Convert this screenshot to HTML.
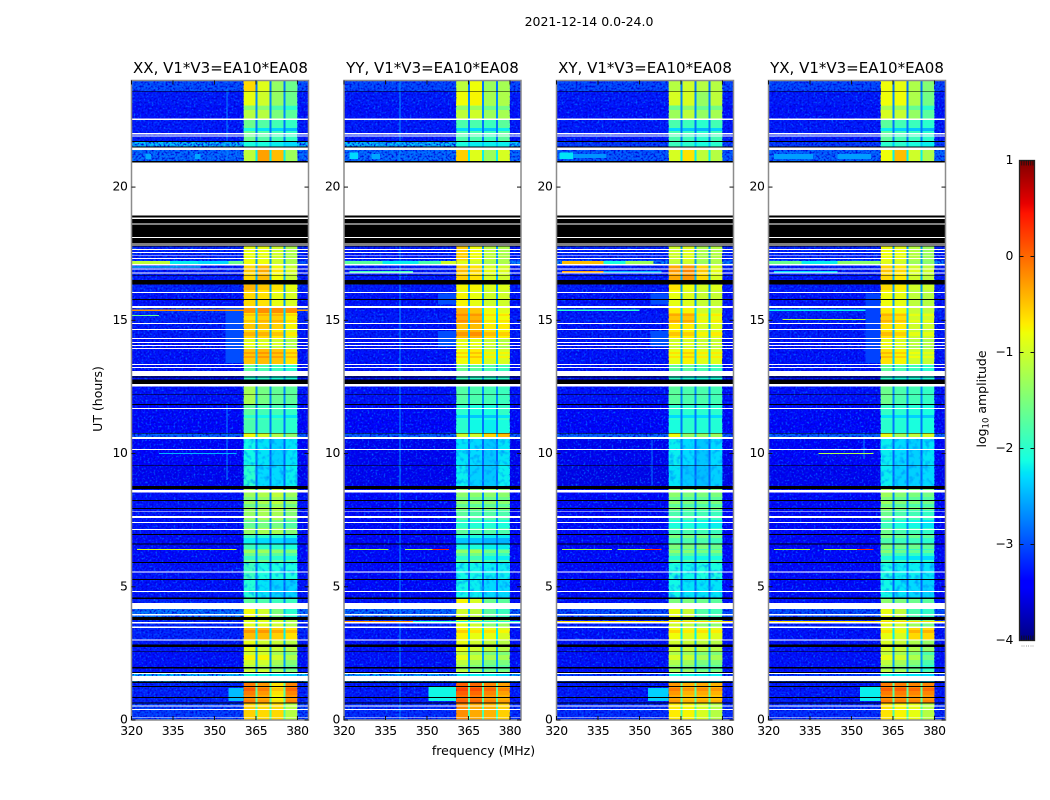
<!DOCTYPE html>
<html lang="en">
<head>
<meta charset="utf-8">
<title>2021-12-14 0.0-24.0</title>
<style>
html,body{margin:0;padding:0;background:#fff;}
svg{display:block;font-family:"DejaVu Sans","Liberation Sans",sans-serif;fill:#000;}
.tick-label{font-size:12.4px;letter-spacing:-0.38px;}
.panel-title{font-size:15px;text-anchor:middle;}
.axis-label{font-size:12.5px;text-anchor:middle;}
</style>
</head>
<body>
<svg id="figure" width="1050" height="800" viewBox="0 0 1050 800" xmlns="http://www.w3.org/2000/svg">
  <defs>
    <filter id="speckle-light" x="0" y="0" width="1" height="1" color-interpolation-filters="sRGB">
      <feTurbulence type="fractalNoise" baseFrequency="0.5" numOctaves="2" seed="4"/>
      <feColorMatrix values="0 0 0 0 0  0 0 0 0 0.42  0 0 0 0 1  3.0 0 0 0 -1.5"/>
    </filter>
    <filter id="speckle-dark" x="0" y="0" width="1" height="1" color-interpolation-filters="sRGB">
      <feTurbulence type="fractalNoise" baseFrequency="0.5" numOctaves="2" seed="11"/>
      <feColorMatrix values="0 0 0 0 0  0 0 0 0 0  0 0 0 0 0.85  3.0 0 0 0 -1.3"/>
    </filter>
    <filter id="mottle" x="0" y="0" width="1" height="1" color-interpolation-filters="sRGB">
      <feTurbulence type="fractalNoise" baseFrequency="0.2" numOctaves="2" seed="7"/>
      <feColorMatrix values="0 0 0 0 0  0 0 0 0 0.6  0 0 0 0 1  2.6 0 0 0 -1.25"/>
    </filter>
    <linearGradient id="colorbar-gradient" x1="0" y1="1" x2="0" y2="0"></linearGradient>
  </defs>
  <text x="589" y="26" font-size="12.5" text-anchor="middle">2021-12-14 0.0-24.0</text>
  <text class="panel-title" x="220.5" y="73">XX, V1*V3=EA10*EA08</text>
  <text class="panel-title" x="432.5" y="73">YY, V1*V3=EA10*EA08</text>
  <text class="panel-title" x="645" y="73">XY, V1*V3=EA10*EA08</text>
  <text class="panel-title" x="857" y="73">YX, V1*V3=EA10*EA08</text>
  <text class="axis-label" x="483.5" y="755">frequency (MHz)</text>
  <text class="axis-label" transform="translate(102,399) rotate(-90)">UT (hours)</text>
  <text class="axis-label" transform="translate(986,399) rotate(-90)">log<tspan font-size="8.5" dy="2.5">10</tspan><tspan dy="-2.5"> amplitude</tspan></text>
  <g id="panels"></g>
  <g id="colorbar">
    <rect x="1019.5" y="160.5" width="15" height="480" fill="url(#colorbar-gradient)" stroke="#222" stroke-width="1.3"/>
  </g>
</svg>
<script>
// ---- data ----
const panelNames = ['xx', 'yy', 'xy', 'yx'];
const xTicks = [320, 335, 350, 365, 380];
const yTicks = [0, 5, 10, 15, 20];
const colorTicks = [1, 0, -1, -2, -3, -4];
const colorTickLabels = ['1', '0', '\u22121', '\u22122', '\u22123', '\u22124'];
const colorMinorTicks = [0.15, 0.3, 0.45, 0.6, 0.75, 0.9];

// UT boundaries of the time blocks, newest first
const utEdges = [24,23.59,23.08,22.52,21.73,21.49,20.94,17.79,17.25,17.08,16.51,16.06,15.46,15.27,14.90,14.64,14.34,13.92,13.32,13.10,12.54,11.86,11.26,10.77,10.55,9.57,8.67,7.88,6.98,6.42,5.89,5.25,4.58,4.17,3.75,3.49,3.0,2.55,1.80,1.39,0.64,0];

// frequency segments (MHz): background, four sub-bands, three notches
const bgSegments = [[320, 360.5], [380, 384]];
const bandSegments = [[360.5, 364.9], [365.6, 369.9], [370.6, 375.0], [375.7, 380]];
const notchSegments = [[364.9, 365.6], [369.9, 370.6], [375.0, 375.7]];

// log10 amplitude of the notch channels per time block
const notchLevels = [-2.8,-2.7,-2.7,-2.8,-2.4,-2.2,-2.7,-2.6,-2.6,-2.5,-2.6,-2.6,-2.3,-2.4,-2.5,-2.5,-2.5,-2.4,-2.6,-2.6,-2.7,-2.8,-2.8,-2.4,-2.9,-2.9,-2.7,-2.7,-2.8,-2.7,-2.9,-2.9,-2.7,-2.4,-2.4,-2.2,-2.5,-2.6,-2.4,-1.7,-1.8];

// per block: background, band A, band B, band C, band D (log10 amplitude)
const levelsXX = [
[-2.95,-0.6,-0.9,-1.35,-1.6],[-3.25,-0.85,-1.0,-1.35,-1.6],[-3.3,-1.15,-1.15,-1.5,-1.7],[-3.25,-1.6,-1.75,-1.85,-1.95],[-2.4,-2.1,-2.1,-2.2,-2.3],
[-2.8,-1.1,-0.3,-0.45,-1.3],[-3.3,-1,-1,-1,-1],[-3.2,-0.85,-0.85,-1.0,-1.2],[-2.95,-0.8,-0.8,-1.0,-1.2],[-3.25,-0.6,-0.45,-0.8,-1.05],
[-3.2,-0.55,-0.65,-0.8,-1.0],[-3.3,-0.6,-0.65,-0.85,-0.95],[-3.1,-0.25,-0.2,-0.2,-0.2],[-3.2,-0.65,-0.55,-0.55,-0.75],[-3.25,-0.5,-0.5,-0.55,-0.75],
[-3.25,-0.6,-0.6,-0.7,-0.9],[-3.3,-0.8,-0.85,-0.9,-1.1],[-3.3,-0.5,-0.45,-0.5,-0.65],[-3.3,-1.7,-1.8,-1.9,-2.0],[-3.3,-2.0,-2.0,-2.1,-2.1],
[-3.3,-1.25,-1.55,-1.65,-1.7],[-3.35,-1.7,-1.85,-1.85,-1.95],[-3.4,-1.8,-1.9,-1.95,-2.0],[-2.85,-0.8,-1.0,-1.2,-1.4],[-3.45,-2.15,-2.25,-2.35,-2.25],
[-3.5,-2.0,-2.3,-2.3,-2.2],[-3.3,-1.3,-1.2,-1.1,-1.3],[-3.3,-1.35,-1.25,-1.25,-1.45],[-3.35,-1.9,-2.0,-2.0,-2.1],[-3.35,-1.6,-1.6,-1.7,-1.8],
[-3.3,-1.9,-2.1,-2.1,-2.1],[-3.3,-2.05,-2.25,-2.35,-2.35],[-3.2,-1.7,-1.8,-1.9,-1.9],[-2.75,-0.8,-1.0,-1.5,-2.0],[-3.2,-0.9,-0.9,-1.0,-1.2],
[-3.2,-0.45,-0.45,-0.55,-0.65],[-3.25,-0.85,-1.0,-1.05,-1.15],[-3.3,-1.0,-1.0,-1.25,-1.45],[-2.4,-2.1,-2.1,-2.2,-2.3],[-3.2,-0.1,-0.25,-0.65,-0.15],
[-3.05,-0.55,-0.6,-0.6,-1.15]];
const levelsYY = [
[-3.0,-1.1,-0.8,-1.3,-1.25],[-3.25,-0.8,-0.75,-1.25,-1.2],[-3.3,-1.1,-1.0,-1.3,-1.25],[-3.25,-1.8,-1.8,-1.9,-1.7],[-2.4,-2.1,-2.2,-2.2,-2.2],
[-2.8,-0.55,-0.9,-1.3,-0.95],[-3.3,-1,-1,-1,-1],[-3.25,-0.55,-0.8,-1.1,-1.2],[-2.7,-0.9,-1.0,-1.2,-1.2],[-3.25,-0.55,-0.65,-0.95,-1.0],
[-3.25,-0.9,-0.9,-1.05,-1.05],[-3.3,-0.75,-0.85,-1.0,-1.0],[-3.3,-0.4,-0.5,-0.8,-0.9],[-3.25,-0.35,-0.4,-0.8,-0.8],[-3.3,-0.5,-0.45,-0.7,-0.7],
[-3.25,-0.45,-0.4,-0.65,-0.75],[-3.3,-0.8,-0.8,-0.95,-1.05],[-3.3,-0.8,-0.7,-0.95,-0.95],[-3.3,-1.6,-1.7,-1.8,-1.9],[-3.3,-1.9,-2.0,-2.0,-2.0],
[-3.3,-1.75,-1.8,-1.85,-1.9],[-3.35,-2.0,-2.1,-2.1,-1.95],[-3.4,-2.0,-2.15,-2.2,-2.1],[-2.85,-1.0,-1.0,-0.6,-0.45],[-3.5,-2.25,-2.3,-2.4,-2.25],
[-3.5,-2.2,-2.35,-2.4,-2.2],[-3.35,-1.4,-1.4,-1.4,-1.4],[-3.35,-1.7,-1.75,-1.75,-1.8],[-3.4,-2.1,-2.1,-2.2,-2.2],[-3.35,-1.7,-1.55,-1.85,-1.9],
[-3.35,-2.15,-2.15,-2.2,-2.2],[-3.35,-2.15,-2.2,-2.3,-2.3],[-3.3,-0.75,-0.95,-1.6,-1.7],[-2.8,-1.0,-1.1,-1.7,-1.9],[-3.2,-0.9,-1.0,-1.4,-1.3],
[-3.3,-0.75,-0.85,-0.85,-0.95],[-3.3,-0.85,-1.0,-1.1,-1.15],[-3.3,-1.1,-1.3,-1.5,-1.5],[-2.5,-2.2,-2.2,-2.2,-2.3],[-3.25,0.05,0.0,-0.15,-0.3],
[-3.15,-0.2,-0.35,-0.4,-0.55]];
const levelsXY = [
[-3.0,-1.15,-1.0,-1.15,-1.15],[-3.25,-0.95,-0.95,-1.35,-1.1],[-3.3,-1.3,-1.1,-1.35,-1.25],[-3.25,-1.8,-1.9,-2.0,-1.85],[-3.05,-1.9,-2.0,-2.1,-2.0],
[-2.9,-0.95,-0.65,-1.1,-1.15],[-3.3,-1,-1,-1,-1],[-3.2,-1.0,-0.9,-1.2,-1.15],[-2.7,-1.1,-1.0,-1.3,-1.2],[-3.25,-0.35,-0.25,-0.6,-0.95],
[-3.25,-0.8,-0.95,-1.1,-1.05],[-3.3,-0.85,-0.9,-1.05,-1.05],[-3.3,-0.7,-0.75,-1.0,-1.0],[-3.25,-0.5,-0.5,-0.9,-0.85],[-3.3,-0.7,-0.7,-0.95,-0.9],
[-3.25,-0.7,-0.75,-0.95,-0.9],[-3.3,-0.9,-0.85,-0.95,-0.95],[-3.3,-0.85,-0.75,-0.9,-0.9],[-3.3,-1.7,-1.7,-1.8,-1.9],[-3.3,-2.0,-2.1,-2.1,-2.1],
[-3.3,-1.7,-1.8,-1.8,-1.85],[-3.35,-2.0,-2.0,-2.0,-2.0],[-3.4,-2.1,-2.0,-2.05,-2.05],[-2.85,-0.8,-1.35,-1.35,-1.3],[-3.5,-2.2,-2.3,-2.4,-2.3],
[-3.55,-2.25,-2.4,-2.45,-2.35],[-3.35,-1.4,-1.5,-1.5,-1.5],[-3.35,-1.8,-1.8,-1.85,-1.9],[-3.4,-1.5,-1.5,-1.5,-1.6],[-3.35,-1.7,-1.75,-1.85,-1.8],
[-3.35,-2.1,-2.15,-2.1,-2.1],[-3.35,-2.15,-2.25,-2.25,-2.25],[-3.3,-1.5,-1.5,-1.6,-1.7],[-2.95,-0.85,-1.05,-1.75,-1.85],[-3.2,-1.0,-1.1,-1.4,-1.4],
[-3.3,-0.8,-0.9,-0.85,-0.9],[-3.3,-1.0,-1.05,-1.1,-1.15],[-3.3,-1.2,-1.3,-1.5,-1.5],[-3.05,-2.1,-2.15,-2.2,-2.2],[-3.25,-0.25,-0.4,-0.35,-0.4],
[-3.15,-0.7,-0.75,-0.95,-1.15]];
const levelsYX = [
[-3.0,-0.8,-0.85,-1.2,-1.45],[-3.25,-0.8,-0.8,-1.2,-1.55],[-3.3,-0.95,-1.05,-1.35,-1.7],[-3.25,-1.7,-1.85,-1.9,-2.0],[-3.05,-2.0,-2.0,-2.1,-2.2],
[-2.85,-0.8,-0.45,-1.0,-1.2],[-3.3,-1,-1,-1,-1],[-3.2,-0.8,-0.85,-1.15,-1.3],[-2.7,-0.9,-1.0,-1.3,-1.4],[-3.25,-0.6,-0.7,-1.0,-1.1],
[-3.25,-0.75,-0.85,-1.15,-1.15],[-3.3,-0.8,-0.85,-1.1,-1.15],[-3.2,-0.7,-0.8,-1.05,-1.1],[-3.25,-0.55,-0.65,-1.0,-1.0],[-3.3,-0.65,-0.7,-1.0,-1.0],
[-3.25,-0.65,-0.75,-1.05,-1.05],[-3.3,-0.75,-0.85,-1.05,-1.1],[-3.3,-0.65,-0.75,-1.0,-1.05],[-3.3,-1.7,-1.8,-1.9,-2.0],[-3.3,-2.0,-2.1,-2.1,-2.1],
[-3.3,-1.6,-1.8,-1.85,-1.95],[-3.35,-1.95,-2.0,-2.05,-2.1],[-3.4,-2.0,-2.05,-2.1,-2.1],[-2.85,-0.85,-1.25,-1.1,-0.95],[-3.45,-2.2,-2.3,-2.35,-2.25],
[-3.5,-2.2,-2.35,-2.35,-2.3],[-3.35,-1.3,-1.45,-1.5,-1.55],[-3.35,-1.6,-1.8,-1.85,-1.95],[-3.4,-1.5,-1.6,-1.6,-1.7],[-3.35,-1.75,-1.9,-1.95,-2.0],
[-3.35,-2.1,-2.2,-2.2,-2.25],[-3.35,-2.15,-2.25,-2.3,-2.35],[-3.3,-1.4,-1.5,-1.6,-1.7],[-2.95,-0.85,-1.1,-1.8,-1.95],[-3.2,-0.9,-1.0,-1.3,-1.5],
[-3.3,-0.85,-0.95,-0.6,-0.6],[-3.3,-0.95,-1.05,-1.2,-1.35],[-3.3,-1.1,-1.25,-1.45,-1.8],[-3.05,-2.15,-2.2,-2.25,-2.3],[-3.25,-0.1,-0.1,-0.15,-0.15],
[-3.15,-0.65,-0.75,-0.85,-1.15]];

// horizontal structure inside the bands: [utLow, utHigh, level change]
const bandStripes = [[22.89,23.04,-0.3],[22.1,22.22,-0.5],[16.81,16.96,0.1],[16.14,16.33,0.15],[15.16,15.24,0.15],[14.94,15.01,0.15],[14.41,14.56,0.2],[14.19,14.26,-0.15],[13.92,14.07,-0.2],[13.74,13.81,0.2],[13.59,13.66,0.2],[11.33,11.45,-0.3],[8.26,8.37,-0.2],[7.99,8.11,-0.3],[7.21,7.51,-0.3],[6.61,6.83,-0.3],[6.27,6.38,0.3],[6.0,6.15,-0.3],[3.27,3.38,0.2],[2.25,2.44,0.25],[1.88,2.06,-0.2],[1.09,1.20,0.15],[0.75,0.94,-0.1]];
// time ranges with patchy, low-level band emission [utHigh, utLow]
const mottledRanges = [[10.55,8.67],[5.89,4.58]];

// elevated patches in the background: [utHigh, utLow, fStart, fEnd, level]
const patchesXX = [[15.46,13.4,354,360.5,-3.0],[1.2,0.72,355,360.5,-2.45],[21.25,21.05,325,327,-2.55],[21.25,21.05,343,345,-2.55]];
const patchesYY = [[16.0,15.6,354,360.5,-3.0],[14.6,14.0,354,360.5,-3.0],[1.25,0.72,350.5,360.5,-2.15],[21.3,21.05,322,325,-2.3],[21.25,21.05,330,333,-2.55]];
const patchesXY = [[16.0,15.6,354,360.5,-3.0],[14.6,14.0,354,360.5,-3.0],[1.2,0.72,353,360.5,-2.35],[21.3,21.05,321,326,-2.25],[21.25,21.1,326,338,-2.65]];
const patchesYX = [[16.0,13.4,355,360.5,-3.05],[1.25,0.72,353,360.5,-2.2],[21.25,21.05,322,336,-2.6],[21.25,21.05,345,357,-2.6]];

// narrow-band interference lines: [ut, fStart, fEnd, level, half-thickness in hours]
const rfiXX = [[17.17,320,334,-1.1,0.05],[17.17,334,344,-2.2,0.05],[17.17,344,355,-2.3,0.05],[17.17,355,360.5,-1.6,0.05],[17.0,320,345,-2.2],[15.38,320,360.5,-0.2],[15.38,380,384,-0.3],[15.18,320,330,-1.6],[6.4,322,358,-0.9],[3.65,320,384,-0.6],[10.0,330,358,-2.5]];
const rfiYY = [[17.17,320,334,-1.7,0.05],[17.17,334,347,-2.2,0.05],[17.17,347,355,-1.8,0.05],[17.17,355,360.5,-1.0,0.05],[16.82,322,345,-1.9],[6.4,322,336,-1.2],[6.4,342,352,-1.2],[6.4,352,358,0.3],[3.7,320,345,-0.2],[3.7,345,384,-2.0]];
const rfiXY = [[17.17,322,337,-0.45,0.05],[17.17,337,345,-2.1,0.05],[17.17,345,355,-1.3,0.05],[16.82,322,337,-0.3],[16.82,337,358,-2.5],[15.38,320,350,-2.0],[6.4,322,340,-1.2],[6.4,342,352,-1.2],[6.4,352,358,0.3],[3.7,320,384,-0.6]];
const rfiYX = [[17.17,320,332,-1.6,0.05],[17.17,332,345,-2.2,0.05],[17.17,345,360.5,-1.4,0.05],[16.82,322,345,-2.3],[15.38,320,355,-2.2],[15.03,325,355,-1.1],[10.0,338,358,-1.2],[6.4,322,335,-1.1],[6.4,340,352,-1.1],[6.4,352,358,0.3],[3.7,320,384,-0.6]];

// faint vertical interference: [freq, utHigh, utLow, level]
const verticalsXX = [[354.4,23.7,21.0,-2.7],[354.4,11.9,9.0,-2.7]];
const verticalsYY = [[340,24,0,-2.65]];
const verticalsXY = [[354.4,10.5,8.8,-2.8]];
const verticalsYX = [[354.4,10.8,9.8,-2.7]];

// flagged time ranges [utLow, utHigh]: blank (white) and zero (black)
const whiteFlags = [[22.52,22.57],[21.98,22.03],[21.89,21.93],[21.39,21.49],[18.93,20.92],[18.81,18.85],[18.59,18.63],[18.09,18.13],[17.88,17.91],[17.80,17.85],[17.63,17.67],[17.53,17.56],[17.43,17.46],[17.30,17.34],[17.05,17.11],[16.90,16.94],[16.75,16.79],[16.03,16.06],[15.46,15.53],[14.86,14.90],[14.64,14.67],[14.30,14.34],[14.15,14.19],[14.04,14.07],[13.92,13.96],[13.32,13.36],[13.21,13.25],[12.91,13.10],[12.51,12.61],[11.68,11.71],[10.55,10.62],[10.14,10.17],[8.53,8.64],[7.82,7.85],[7.58,7.66],[7.39,7.43],[7.13,7.17],[5.54,5.58],[4.80,4.84],[4.17,4.39],[3.93,3.97],[3.63,3.67],[3.46,3.50],[2.99,3.03],[1.73,1.76],[1.46,1.66],[0.50,0.54],[0.38,0.42],[0.09,0.12]];
const blackFlags = [[23.58,23.61],[21.70,21.73],[21.49,21.52],[20.92,20.98],[18.85,18.93],[18.63,18.81],[18.13,18.59],[17.91,18.09],[17.85,17.88],[17.77,17.80],[16.69,16.71],[16.34,16.51],[15.76,15.80],[12.86,12.90],[12.73,12.77],[12.61,12.72],[12.21,12.23],[11.83,11.86],[10.73,10.76],[9.53,9.56],[8.67,8.78],[8.22,8.26],[7.92,7.95],[6.94,6.98],[6.59,6.62],[5.89,5.93],[5.25,5.29],[4.55,4.59],[3.76,3.87],[2.74,2.83],[2.55,2.58],[1.94,1.98],[1.76,1.81],[1.38,1.44],[1.24,1.28],[0.83,0.86],[0.61,0.66]];

const panelLevels = [levelsXX, levelsYY, levelsXY, levelsYX];
const panelPatches = [patchesXX, patchesYY, patchesXY, patchesYX];
const panelRfi = [rfiXX, rfiYY, rfiXY, rfiYX];
const panelVerticals = [verticalsXX, verticalsYY, verticalsXY, verticalsYX];

// ---- layout and scales ----
const SVGNS = 'http://www.w3.org/2000/svg';
const panelLefts = [131.5, 344, 556.5, 768.5];
const panelWidth = 177;
const plotTop = 80.5, plotBottom = 720;
const xScale = (p, f) => panelLefts[p] + (f - 320) * panelWidth / 64;
const yScale = ut => plotBottom - ut * (plotBottom - plotTop) / 24;
const cbTop = 160.5, cbBottom = 640.5;
const cbScale = v => cbBottom - (v + 4) * (cbBottom - cbTop) / 5;

function interp(pts, t) {
  for (let i = 1; i < pts.length; i++) {
    if (t <= pts[i][0]) {
      const a = pts[i - 1], b = pts[i];
      return a[1] + (b[1] - a[1]) * (t - a[0]) / (b[0] - a[0]);
    }
  }
  return pts[pts.length - 1][1];
}
const jetR = [[0,0],[0.35,0],[0.66,1],[0.89,1],[1,0.5]];
const jetG = [[0,0],[0.125,0],[0.375,1],[0.64,1],[0.91,0],[1,0]];
const jetB = [[0,0.5],[0.11,1],[0.34,1],[0.65,0],[1,0]];
function jet(v) {
  const t = Math.max(0, Math.min(1, (v + 4) / 5));
  const c = ch => Math.round(255 * interp(ch, t));
  return 'rgb(' + c(jetR) + ',' + c(jetG) + ',' + c(jetB) + ')';
}
function makeRect(parent, x0, x1, y0, y1, fill) {
  const r = document.createElementNS(SVGNS, 'rect');
  r.setAttribute('x', Math.min(x0, x1).toFixed(2));
  r.setAttribute('y', Math.min(y0, y1).toFixed(2));
  r.setAttribute('width', Math.abs(x1 - x0).toFixed(2));
  r.setAttribute('height', Math.abs(y1 - y0).toFixed(2));
  r.setAttribute('fill', fill);
  r.setAttribute('shape-rendering', 'crispEdges');
  parent.appendChild(r);
  return r;
}
function makeLine(parent, x1, y1, x2, y2, stroke, w) {
  const l = document.createElementNS(SVGNS, 'line');
  l.setAttribute('x1', x1); l.setAttribute('y1', y1);
  l.setAttribute('x2', x2); l.setAttribute('y2', y2);
  l.setAttribute('stroke', stroke);
  l.setAttribute('stroke-width', w);
  parent.appendChild(l);
  return l;
}
function makeText(parent, x, y, str, anchor) {
  const t = document.createElementNS(SVGNS, 'text');
  t.setAttribute('x', x); t.setAttribute('y', y);
  t.setAttribute('text-anchor', anchor);
  t.setAttribute('class', 'tick-label');
  t.textContent = str;
  parent.appendChild(t);
  return t;
}
function levelAt(levels, ut, col) {
  for (let i = 0; i < levels.length; i++) {
    if (ut <= utEdges[i] && ut >= utEdges[i + 1]) return levels[i][col];
  }
  return levels[0][col];
}

const root = document.getElementById('panels');
panelNames.forEach((name, p) => {
  const g = document.createElementNS(SVGNS, 'g');
  
  
  root.appendChild(g);

  const levels = panelLevels[p];
  levels.forEach((row, i) => {
    const yA = yScale(utEdges[i]), yB = yScale(utEdges[i + 1]);
    bgSegments.forEach(seg => {
      const c = makeRect(g, xScale(p, seg[0]), xScale(p, seg[1]), yA, yB, jet(row[0]));
      
      
    });
    bandSegments.forEach((seg, b) => {
      const c = makeRect(g, xScale(p, seg[0]), xScale(p, seg[1]), yA, yB, jet(row[b + 1]));
      
      
    });
    notchSegments.forEach(seg => {
      const c = makeRect(g, xScale(p, seg[0]), xScale(p, seg[1]), yA, yB, jet(notchLevels[i]));
      
      
    });
  });

  bandStripes.forEach(d => {
    const mid = (d[0] + d[1]) / 2;
    bandSegments.forEach((seg, b) => {
      const c = makeRect(g, xScale(p, seg[0]), xScale(p, seg[1]), yScale(d[1]), yScale(d[0]), jet(levelAt(levels, mid, b + 1) + d[2]));
      
      
    });
  });

  // channel-noise texture over the off-band background
  bgSegments.forEach(seg => {
    ['speckle-light', 'speckle-dark'].forEach(fid => {
      const s = makeRect(g, xScale(p, seg[0]), xScale(p, seg[1]), plotTop, plotBottom, '#000');
      s.setAttribute('filter', 'url(#' + fid + ')');
      
      
    });
  });
  mottledRanges.forEach(d => {
    const s = makeRect(g, xScale(p, 360.5), xScale(p, 380), yScale(d[0]), yScale(d[1]), '#000');
    s.setAttribute('filter', 'url(#mottle)');
    
    
  });

  panelPatches[p].forEach(d => {
    const c = makeRect(g, xScale(p, d[2]), xScale(p, d[3]), yScale(d[0]), yScale(d[1]), jet(d[4]));
    
    
  });
  panelVerticals[p].forEach(d => {
    const c = makeRect(g, xScale(p, d[0]), xScale(p, d[0]) + 1, yScale(d[1]), yScale(d[2]), jet(d[3]));
    
    
  });
  panelRfi[p].forEach(d => {
    const half = (d[4] || 0.024) * (plotBottom - plotTop) / 24;
    const yc = yScale(d[0]);
    const c = makeRect(g, xScale(p, d[1]), xScale(p, d[2]), yc - half, yc + half, jet(d[3]));
    
    
  });

  const xL = xScale(p, 320), xR = xScale(p, 384);
  whiteFlags.forEach(d => {
    const c = makeRect(g, xL, xR, yScale(d[1]), yScale(d[0]), '#fff');
    
    
  });
  blackFlags.forEach(d => {
    const c = makeRect(g, xL, xR, yScale(d[1]), yScale(d[0]), '#000');
    
    
  });

  // frame
  const frame = document.createElementNS(SVGNS, 'rect');
  frame.setAttribute('x', xL); frame.setAttribute('y', plotTop);
  frame.setAttribute('width', panelWidth); frame.setAttribute('height', plotBottom - plotTop);
  frame.setAttribute('fill', 'none');
  frame.setAttribute('stroke', '#8c8c8c');
  frame.setAttribute('stroke-width', '1.5');
  
  
  g.appendChild(frame);

  // ticks and labels
  xTicks.forEach(v => {
    const x = xScale(p, v);
    const t1 = makeLine(g, x, plotBottom, x, plotBottom - 4, '#111', 1);
    
    
    const t2 = makeLine(g, x, plotTop, x, plotTop + 4, '#111', 1);
    
    
    const lb = makeText(g, x, 735, String(v), 'middle');
    
    
  });
  yTicks.forEach(v => {
    const y = yScale(v);
    const t1 = makeLine(g, xL, y, xL + 4, y, '#111', 1);
    
    
    const t2 = makeLine(g, xR, y, xR - 4, y, '#111', 1);
    
    
    const lb = makeText(g, xL - 4, y + 3.5, String(v), 'end');
    
    
  });
});

// ---- colorbar ----
const grad = document.getElementById('colorbar-gradient');
const jetBreaks = [0,0.11,0.125,0.34,0.35,0.375,0.64,0.65,0.66,0.89,0.91,1];
jetBreaks.forEach(t => {
  const st = document.createElementNS(SVGNS, 'stop');
  st.setAttribute('offset', t);
  st.setAttribute('stop-color', jet(t * 5 - 4));
  grad.appendChild(st);
});
const cb = document.getElementById('colorbar');
colorTicks.forEach((v, i) => {
  const y = cbScale(v);
  const lb = makeText(cb, 1013, y + 3.5, colorTickLabels[i], 'end');
  
  
  if (v > -4 && v < 1) {
    const t1 = makeLine(cb, 1019.5, y, 1023.5, y, '#111', 1);
    
    
    const t2 = makeLine(cb, 1034.5, y, 1030.5, y, '#111', 1);
    
    
  }
});
colorMinorTicks.forEach(f => {
  const x = 1019.5 + f * 15;
  const a = makeLine(cb, x, cbTop, x, cbTop + 5, '#111', 0.8);
  
  
  const b = makeLine(cb, x, cbBottom, x, cbBottom - 5, '#111', 0.8);
  
  
  const d = makeRect(cb, x - 0.5, x + 0.5, 645.5, 646.5, '#999');
  
  
});
</script>
</body>
</html>
